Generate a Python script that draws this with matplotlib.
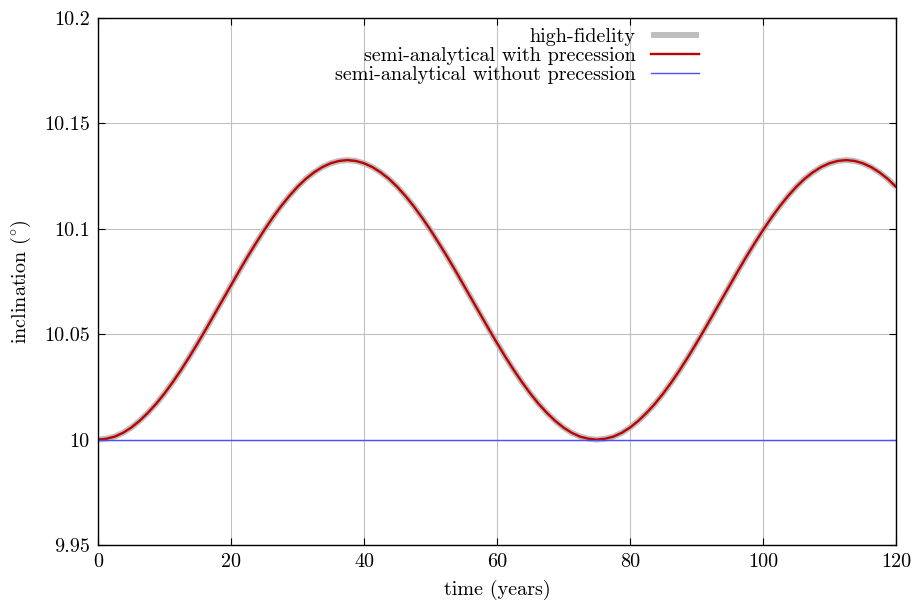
import matplotlib
matplotlib.use("Agg")
import matplotlib.pyplot as plt

# inclination history (years, degrees)
time_years = [0, 1.25, 2.5, 3.75, 5, 6.25, 7.5, 8.75, 10, 11.25, 12.5, 13.75, 15, 16.25,
              17.5, 18.75, 20, 21.25, 22.5, 23.75, 25, 26.25, 27.5, 28.75, 30, 31.25, 32.5,
              33.75, 35, 36.25, 37.5, 38.75, 40, 41.25, 42.5, 43.75, 45, 46.25, 47.5, 48.75,
              50, 51.25, 52.5, 53.75, 55, 56.25, 57.5, 58.75, 60, 61.25, 62.5, 63.75, 65,
              66.25, 67.5, 68.75, 70, 71.25, 72.5, 73.75, 75, 76.25, 77.5, 78.75, 80, 81.25,
              82.5, 83.75, 85, 86.25, 87.5, 88.75, 90, 91.25, 92.5, 93.75, 95, 96.25, 97.5,
              98.75, 100, 101.25, 102.5, 103.75, 105, 106.25, 107.5, 108.75, 110, 111.25,
              112.5, 113.75, 115, 116.25, 117.5, 118.75, 120]
high_fidelity = [
    10.0000, 10.0004, 10.0014, 10.0032, 10.0057, 10.0089, 10.0127, 10.0170, 10.0219,
    10.0273, 10.0331, 10.0393, 10.0458, 10.0525, 10.0594, 10.0663, 10.0732, 10.0801,
    10.0868, 10.0932, 10.0994, 10.1052, 10.1106, 10.1155, 10.1199, 10.1237, 10.1268,
    10.1293, 10.1311, 10.1322, 10.1326,
    10.1322, 10.1311, 10.1293, 10.1268, 10.1237, 10.1199, 10.1155, 10.1106, 10.1052,
    10.0994, 10.0932, 10.0868, 10.0801, 10.0732, 10.0663, 10.0594, 10.0525, 10.0458,
    10.0393, 10.0331, 10.0273, 10.0219, 10.0170, 10.0127, 10.0089, 10.0057, 10.0032,
    10.0014, 10.0004, 10.0000,
    10.0004, 10.0014, 10.0032, 10.0057, 10.0089, 10.0127, 10.0170, 10.0219, 10.0273,
    10.0331, 10.0393, 10.0458, 10.0525, 10.0594, 10.0663, 10.0732, 10.0801, 10.0868,
    10.0932, 10.0994, 10.1052, 10.1106, 10.1155, 10.1199, 10.1237, 10.1268, 10.1293,
    10.1311, 10.1322, 10.1326,
    10.1322, 10.1311, 10.1293, 10.1268, 10.1237, 10.1199]
with_precession = [
    10.0000, 10.0004, 10.0014, 10.0032, 10.0057, 10.0089, 10.0127, 10.0170, 10.0219,
    10.0273, 10.0331, 10.0393, 10.0458, 10.0525, 10.0594, 10.0663, 10.0732, 10.0801,
    10.0868, 10.0932, 10.0994, 10.1052, 10.1106, 10.1155, 10.1199, 10.1237, 10.1268,
    10.1293, 10.1311, 10.1322, 10.1326,
    10.1322, 10.1311, 10.1293, 10.1268, 10.1237, 10.1199, 10.1155, 10.1106, 10.1052,
    10.0994, 10.0932, 10.0868, 10.0801, 10.0732, 10.0663, 10.0594, 10.0525, 10.0458,
    10.0393, 10.0331, 10.0273, 10.0219, 10.0170, 10.0127, 10.0089, 10.0057, 10.0032,
    10.0014, 10.0004, 10.0000,
    10.0004, 10.0014, 10.0032, 10.0057, 10.0089, 10.0127, 10.0170, 10.0219, 10.0273,
    10.0331, 10.0393, 10.0458, 10.0525, 10.0594, 10.0663, 10.0732, 10.0801, 10.0868,
    10.0932, 10.0994, 10.1052, 10.1106, 10.1155, 10.1199, 10.1237, 10.1268, 10.1293,
    10.1311, 10.1322, 10.1326,
    10.1322, 10.1311, 10.1293, 10.1268, 10.1237, 10.1199]
without_precession_t = [0, 120]
without_precession = [10.0, 10.0]

xticks = [0, 20, 40, 60, 80, 100, 120]
yticks = [9.95, 10.0, 10.05, 10.1, 10.15, 10.2]
ytick_labels = ["9.95", "10", "10.05", "10.1", "10.15", "10.2"]

plt.rcParams["font.family"] = ["cmr10", "DejaVu Serif"]
plt.rcParams["mathtext.fontset"] = "cm"
plt.rcParams["axes.formatter.use_mathtext"] = True
fs = 14.5

fig = plt.figure(figsize=(9.18, 6.03), dpi=100)
ax = fig.add_axes([98 / 918, 1 - 545 / 603, 798 / 918, 527 / 603])

ax.plot(time_years, high_fidelity, color="#bebebe", lw=4.3, label="high-fidelity",
        solid_capstyle="butt")
ax.plot(time_years, with_precession, color="#c00000", lw=1.7,
        label="semi-analytical with precession")
ax.plot(without_precession_t, without_precession, color="#4d4dff", lw=1.0,
        label="semi-analytical without precession")

ax.set_xlim(0, 120)
ax.set_ylim(9.95, 10.2)
ax.set_xticks(xticks)
ax.set_xticklabels([str(v) for v in xticks])
ax.set_yticks(yticks)
ax.set_yticklabels(ytick_labels)
ax.grid(True, color="#c0c0c0", lw=0.8)
ax.set_axisbelow(True)
ax.tick_params(direction="in", length=5, width=0.8, top=True, right=True,
               labelsize=fs, pad=6)
for s in ax.spines.values():
    s.set_linewidth(1.0)

ax.set_xlabel("time (years)", fontsize=fs, labelpad=6)
ax.set_ylabel(r"inclination (${}^{\circ}$)", fontsize=fs, labelpad=8)

leg = ax.legend(loc="upper right", bbox_to_anchor=(0.766, 1.0), frameon=False,
                fontsize=fs, markerfirst=False, handlelength=2.4, handletextpad=0.75,
                labelspacing=0.05, borderaxespad=0.1)
# right-align the entries so the sample lines line up
for col in leg._legend_handle_box.get_children():
    col.align = "right"

fig.savefig("out.png", dpi=100)
